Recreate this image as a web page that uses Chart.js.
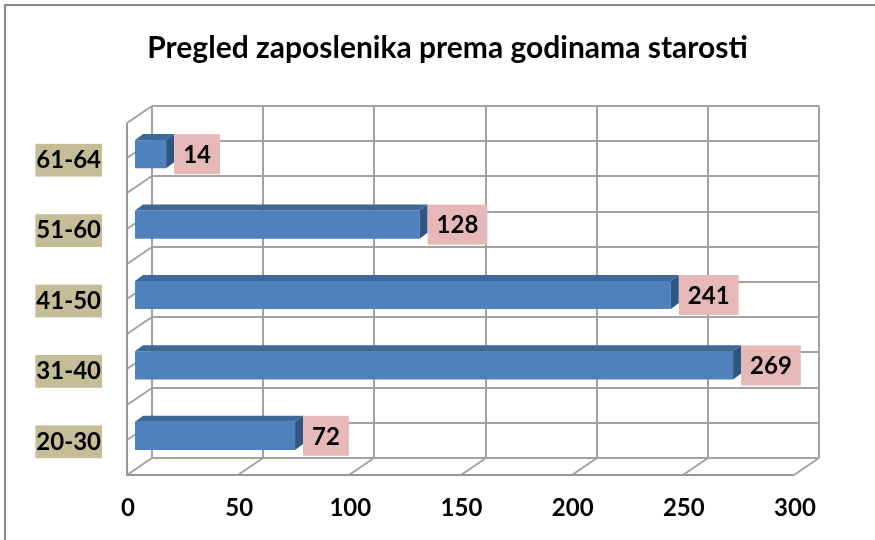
<!DOCTYPE html>
<html><head><meta charset="utf-8">
<script src="https://cdn.jsdelivr.net/npm/chart.js@4/dist/chart.umd.min.js"></script>
<style>html,body{margin:0;padding:0;background:#fff;}canvas{display:block;}</style>
</head><body>
<canvas id="c" width="875" height="540"></canvas>
<script>
const chartTitle = 'Pregled zaposlenika prema godinama starosti';
const categories = ['20-30', '31-40', '41-50', '51-60', '61-64'];
const employees = [72, 269, 241, 128, 14];
const axisMin = 0, axisMax = 300, axisStep = 50;

const FONT = 'Lato';
const DEPTH = {fx: -8, fy: 4, bx: 17, by: -13};
const BAR = {dx: 8, dy: -6};

const framePlugin = {
  id: 'frame',
  beforeDraw(chart) {
    const ctx = chart.ctx;
    ctx.save();
    ctx.fillStyle = '#fff';
    ctx.fillRect(0, 0, chart.width, chart.height);
    ctx.strokeStyle = '#8a8a8a';
    ctx.lineWidth = 2;
    ctx.beginPath();
    ctx.moveTo(5, chart.height); ctx.lineTo(5, 5); ctx.lineTo(chart.width, 5);
    ctx.stroke();
    ctx.restore();
  },
  beforeDatasetsDraw(chart) {
    const ctx = chart.ctx, xs = chart.scales.x, ca = chart.chartArea;
    const top = ca.top, bottom = ca.bottom, left = ca.left, right = ca.right;
    ctx.save();
    ctx.lineWidth = 2;
    ctx.strokeStyle = '#a2a2a2';
    const steps = categories.length * 2;
    ctx.beginPath();
    xs.ticks.forEach(t => {
      const px = Math.round(xs.getPixelForValue(t.value));
      ctx.moveTo(px + DEPTH.bx, top + DEPTH.by);
      ctx.lineTo(px + DEPTH.bx, bottom + DEPTH.by);
      ctx.moveTo(px + DEPTH.fx, bottom + DEPTH.fy);
      ctx.lineTo(px + DEPTH.bx, bottom + DEPTH.by);
    });
    for (let k = 0; k <= steps; k++) {
      const y = Math.round(bottom - k * (bottom - top) / steps);
      ctx.moveTo(left + DEPTH.bx, y + DEPTH.by);
      ctx.lineTo(right + DEPTH.bx, y + DEPTH.by);
      ctx.moveTo(left + DEPTH.fx, y + DEPTH.fy);
      ctx.lineTo(left + DEPTH.bx, y + DEPTH.by);
    }
    ctx.stroke();
    ctx.strokeStyle = '#969696';
    ctx.beginPath();
    ctx.moveTo(left + DEPTH.fx, top + DEPTH.fy);
    ctx.lineTo(left + DEPTH.fx, bottom + DEPTH.fy);
    ctx.lineTo(right + DEPTH.fx, bottom + DEPTH.fy);
    ctx.stroke();
    ctx.restore();
  },
  afterDatasetsDraw(chart) {
    const ctx = chart.ctx;
    const meta = chart.getDatasetMeta(0);
    ctx.save();
    meta.data.forEach((el, i) => {
      const p = el.getProps(['x', 'y', 'base', 'height'], true);
      const t = p.y - p.height / 2, b = p.y + p.height / 2;
      ctx.fillStyle = '#3d6898';
      ctx.beginPath();
      ctx.moveTo(p.base, t);
      ctx.lineTo(p.base + BAR.dx, t + BAR.dy);
      ctx.lineTo(p.x + BAR.dx, t + BAR.dy);
      ctx.lineTo(p.x, t);
      ctx.closePath();
      ctx.fill();
      ctx.fillStyle = '#2f5683';
      ctx.beginPath();
      ctx.moveTo(p.x, t);
      ctx.lineTo(p.x + BAR.dx, t + BAR.dy);
      ctx.lineTo(p.x + BAR.dx, b + BAR.dy);
      ctx.lineTo(p.x, b);
      ctx.closePath();
      ctx.fill();
      const txt = String(chart.data.datasets[0].data[i]);
      ctx.font = 'bold 24px ' + FONT;
      const w = ctx.measureText(txt).width + 18;
      const bx = p.x + BAR.dx;
      ctx.fillStyle = '#e6b9b8';
      ctx.fillRect(bx, p.y - 20, w, 40);
      ctx.fillStyle = '#000';
      ctx.textAlign = 'center';
      ctx.textBaseline = 'middle';
      ctx.fillText(txt, bx + w / 2, p.y + 1);
    });
    ctx.restore();
  }
};

new Chart(document.getElementById('c'), {
  type: 'bar',
  data: {
    labels: categories,
    datasets: [{
      data: employees,
      backgroundColor: '#4f81bd',
      borderWidth: 0,
      categoryPercentage: 1,
      barPercentage: 0.4
    }]
  },
  plugins: [framePlugin],
  options: {
    indexAxis: 'y',
    responsive: false,
    animation: false,
    layout: {padding: {left: 20, right: 0, top: 0, bottom: 0}},
    plugins: {
      legend: {display: false},
      tooltip: {enabled: false},
      title: {
        display: true, text: chartTitle, color: '#000',
        font: {family: FONT, size: 30, weight: 'bold'},
        padding: {top: 30, bottom: 53}
      }
    },
    scales: {
      x: {
        min: axisMin, max: axisMax,
        ticks: {stepSize: axisStep, color: '#000', font: {family: FONT, size: 24, weight: 'bold'},
                padding: 23, labelOffset: -7, maxRotation: 0},
        grid: {display: false, drawTicks: false},
        border: {display: false},
        afterFit(s) { s.height = 69; }
      },
      y: {
        reverse: true,
        ticks: {color: '#000', font: {family: FONT, size: 24, weight: 'bold'},
                padding: 34, labelOffset: 6, showLabelBackdrop: true,
                backdropColor: '#c4bd97', backdropPadding: {x: 1, y: 2}},
        grid: {display: false, drawTicks: false},
        border: {display: false},
        afterFit(s) { s.width = 115; }
      },
      yRight: {
        type: 'category',
        position: 'right',
        labels: categories,
        ticks: {display: false},
        grid: {display: false, drawTicks: false},
        border: {display: false},
        afterFit(s) { s.width = 73; }
      }
    }
  }
});
</script>
</body></html>
